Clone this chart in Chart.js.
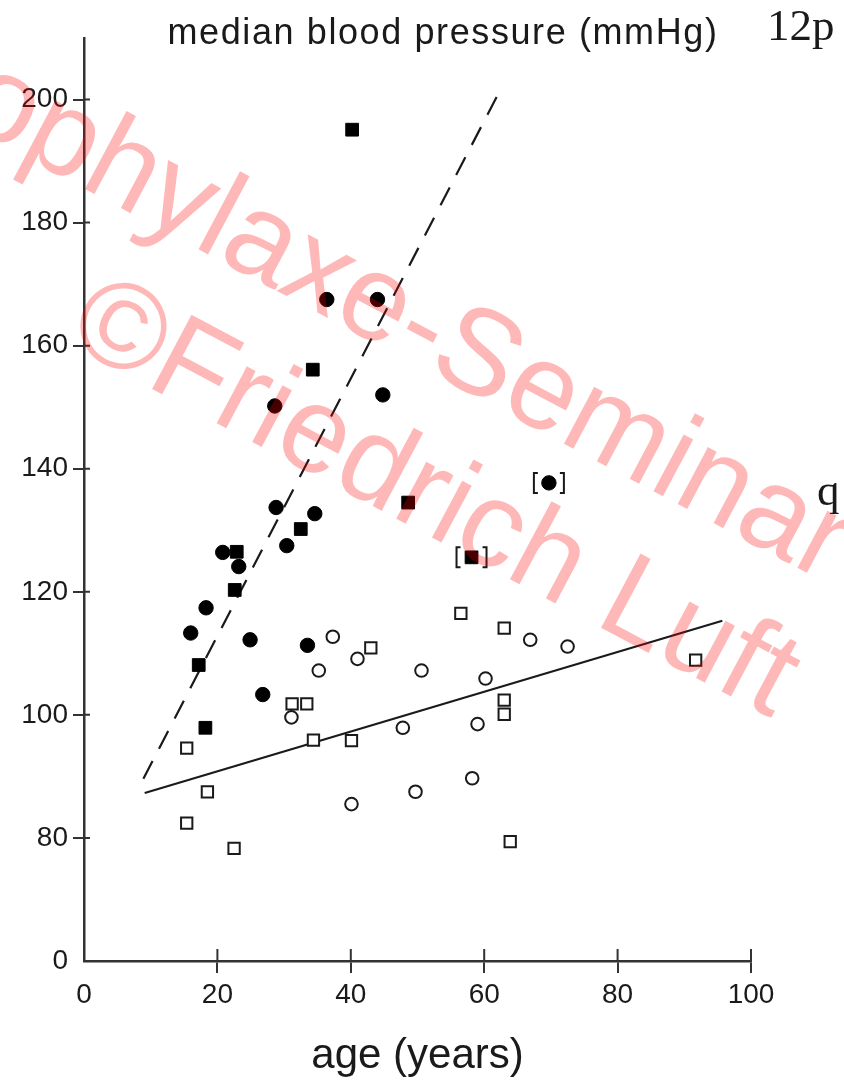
<!DOCTYPE html>
<html>
<head>
<meta charset="utf-8">
<script src="https://cdn.jsdelivr.net/npm/chart.js@4.4.0/dist/chart.umd.min.js"></script>
<style>
  html, body { margin: 0; padding: 0; background: #fff; }
  #wrap { position: relative; width: 844px; height: 1080px; }
</style>
</head>
<body>
<div id="wrap"><canvas id="bpChart"></canvas></div>
<script>
"use strict";

// values: age (years) / median blood pressure (mmHg)
var filledCircleAge = [36.4, 44.0, 44.8, 28.6, 28.8, 34.6, 30.4, 20.8, 23.2, 18.3, 16.0, 24.9, 33.5, 26.8];
var filledCircleBP  = [167.5, 167.5, 152.0, 150.2, 133.7, 132.7, 127.5, 126.4, 124.1, 117.4, 113.3, 112.2, 111.3, 103.3];

var filledSquareAge = [40.2, 34.3, 48.6, 32.5, 22.9, 22.6, 17.2, 18.2];
var filledSquareBP  = [195.1, 156.1, 134.5, 130.2, 126.5, 120.3, 108.1, 97.9];

var bracketCircleAge = [69.7];
var bracketCircleBP  = [137.7];
var bracketSquareAge = [58.1];
var bracketSquareBP  = [125.6];

var openCircleAge = [37.3, 41.0, 35.2, 50.6, 31.1, 47.8, 40.1, 49.7, 66.9, 72.5, 60.2, 59.0, 58.2];
var openCircleBP  = [112.7, 109.1, 107.2, 107.2, 99.6, 97.9, 85.5, 87.5, 112.2, 111.1, 105.9, 98.5, 89.7];

var openSquareAge = [43.0, 31.2, 33.4, 15.4, 34.4, 40.1, 18.5, 15.4, 22.5, 56.5, 63.0, 91.7, 63.0, 63.0, 63.9];
var openSquareBP  = [110.9, 101.8, 101.8, 94.6, 95.9, 95.8, 87.5, 82.4, 78.3, 116.5, 114.1, 108.9, 102.4, 100.1, 79.4];

var dashedLineAge = [8.9, 61.9];
var dashedLineBP  = [89.6, 200.5];
var solidLineAge  = [9.1, 95.7];
var solidLineBP   = [87.3, 115.3];

// axis: the y axis is broken, its lowest tick (labelled 0) sits where 60 would be
var xTickValues = [0, 20, 40, 60, 80, 100];
var yTickValues = [60, 80, 100, 120, 140, 160, 180, 200];
var yTickLabels = ['0', '80', '100', '120', '140', '160', '180', '200'];

function pts(xs, ys) {
    return xs.map(function (x, i) { return { x: x, y: ys[i] }; });
}

var INK = '#1a1a1a';
var AXIS = '#333';

var decorations = {
    id: 'decorations',
    afterDatasetsDraw: function (chart) {
        var ctx = chart.ctx;
        ctx.save();
        ctx.strokeStyle = INK;
        ctx.lineWidth = 2;
        chart.data.datasets.forEach(function (ds, i) {
            if (!ds.bracket) return;
            chart.getDatasetMeta(i).data.forEach(function (el) {
                var off = 15, h = 10, w = 4;
                ctx.beginPath();
                ctx.moveTo(el.x - off + w, el.y - h);
                ctx.lineTo(el.x - off, el.y - h);
                ctx.lineTo(el.x - off, el.y + h);
                ctx.lineTo(el.x - off + w, el.y + h);
                ctx.moveTo(el.x + off - w, el.y - h);
                ctx.lineTo(el.x + off, el.y - h);
                ctx.lineTo(el.x + off, el.y + h);
                ctx.lineTo(el.x + off - w, el.y + h);
                ctx.stroke();
            });
        });
        ctx.restore();
    },
    afterDraw: function (chart) {
        var ctx = chart.ctx;
        var area = chart.chartArea;
        var xs = chart.scales.x, ys = chart.scales.y;

        // inner half of the tick marks
        ctx.save();
        ctx.strokeStyle = AXIS;
        ctx.lineWidth = 2;
        ctx.beginPath();
        yTickValues.slice(1).forEach(function (v) {
            var py = ys.getPixelForValue(v);
            ctx.moveTo(area.left, py);
            ctx.lineTo(area.left + 6, py);
        });
        xTickValues.slice(1).forEach(function (v) {
            var px = xs.getPixelForValue(v);
            ctx.moveTo(px, area.bottom);
            ctx.lineTo(px, area.bottom - 12);
        });
        ctx.stroke();

        // y axis title on top, and the page labels
        ctx.fillStyle = INK;
        ctx.font = '36px "Liberation Sans"';
        ctx.letterSpacing = '1.6px';
        ctx.textAlign = 'center';
        ctx.textBaseline = 'middle';
        ctx.fillText('median blood pressure (mmHg)', 443, 34);
        ctx.letterSpacing = '0px';
        ctx.textAlign = 'left';
        ctx.textBaseline = 'alphabetic';
        ctx.font = '45px "Liberation Serif"';
        ctx.fillText('12p', 767, 40);
        ctx.fillText('q', 817, 505);
        ctx.restore();

        // watermark
        ctx.save();
        ctx.fillStyle = 'rgba(255, 0, 0, 0.28)';
        ctx.font = '122px "Liberation Sans"';
        ctx.textAlign = 'left';
        ctx.textBaseline = 'alphabetic';
        var ang = 28 * Math.PI / 180;
        ctx.save();
        ctx.translate(-150, 64);
        ctx.rotate(ang);
        ctx.fillText('Prophylaxe-Seminar \u00A9', 0, 0);
        ctx.restore();
        ctx.save();
        ctx.translate(64, 342);
        ctx.rotate(ang);
        ctx.fillText('\u00A9Friedrich Luft', 0, 0);
        ctx.restore();
        ctx.restore();
    }
};

var tickFont = { family: '"Liberation Sans"', size: 28 };

var bpChart = new Chart(document.getElementById('bpChart'), {
    type: 'scatter',
    data: {
        datasets: [
            {
                label: 'bracket circle',
                data: pts(bracketCircleAge, bracketCircleBP),
                bracket: true,
                pointStyle: 'circle',
                pointRadius: 7.2,
                backgroundColor: '#000',
                borderColor: '#000',
                borderWidth: 1
            },
            {
                label: 'bracket square',
                data: pts(bracketSquareAge, bracketSquareBP),
                bracket: true,
                pointStyle: 'rect',
                pointRadius: 9,
                backgroundColor: '#000',
                borderColor: '#000',
                borderWidth: 1
            },
            {
                label: 'filled circles',
                data: pts(filledCircleAge, filledCircleBP),
                pointStyle: 'circle',
                pointRadius: 7.2,
                backgroundColor: '#000',
                borderColor: '#000',
                borderWidth: 1
            },
            {
                label: 'filled squares',
                data: pts(filledSquareAge, filledSquareBP),
                pointStyle: 'rect',
                pointRadius: 9,
                backgroundColor: '#000',
                borderColor: '#000',
                borderWidth: 1
            },
            {
                label: 'open circles',
                data: pts(openCircleAge, openCircleBP),
                pointStyle: 'circle',
                pointRadius: 6.3,
                backgroundColor: '#fff',
                borderColor: INK,
                borderWidth: 2
            },
            {
                label: 'open squares',
                data: pts(openSquareAge, openSquareBP),
                pointStyle: 'rect',
                pointRadius: 8,
                backgroundColor: '#fff',
                borderColor: INK,
                borderWidth: 2
            },
            {
                label: 'dashed',
                data: pts(dashedLineAge, dashedLineBP),
                showLine: true,
                borderColor: INK,
                borderWidth: 2.2,
                borderDash: [20, 14],
                pointRadius: 0
            },
            {
                label: 'solid',
                data: pts(solidLineAge, solidLineBP),
                showLine: true,
                borderColor: INK,
                borderWidth: 2.2,
                pointRadius: 0
            }
        ]
    },
    options: {
        responsive: true,
        maintainAspectRatio: false,
        animation: false,
        events: [],
        layout: { padding: { top: 38, right: 93, bottom: 0, left: 0 } },
        plugins: {
            legend: { display: false },
            tooltip: { enabled: false }
        },
        scales: {
            x: {
                type: 'linear',
                min: 0,
                max: 100,
                afterBuildTicks: function (scale) {
                    scale.ticks = xTickValues.map(function (v) { return { value: v }; });
                },
                afterFit: function (scale) { scale.height = 119; },
                border: { display: true, color: AXIS, width: 2.5 },
                grid: {
                    drawOnChartArea: false,
                    tickLength: 12,
                    lineWidth: 2,
                    color: function (c) { return c.tick && c.tick.value === 0 ? 'rgba(0,0,0,0)' : AXIS; }
                },
                ticks: { color: INK, font: tickFont, padding: 5, maxRotation: 0 },
                title: {
                    display: true,
                    text: 'age (years)',
                    color: INK,
                    font: { family: '"Liberation Sans"', size: 42 },
                    padding: { top: 0, bottom: -2 }
                }
            },
            y: {
                type: 'linear',
                min: 60,
                max: 210,
                afterBuildTicks: function (scale) {
                    scale.ticks = yTickValues.map(function (v) { return { value: v }; });
                },
                afterFit: function (scale) { scale.width = 84; },
                border: { display: true, color: AXIS, width: 2.5 },
                grid: {
                    drawOnChartArea: false,
                    tickLength: 11,
                    lineWidth: 2,
                    color: function (c) { return c.tick && c.tick.value === 60 ? 'rgba(0,0,0,0)' : AXIS; }
                },
                ticks: {
                    color: INK,
                    font: tickFont,
                    padding: 5,
                    callback: function (v) { return yTickLabels[yTickValues.indexOf(v)]; }
                }
            }
        }
    },
    plugins: [decorations]
});
</script>
</body>
</html>
